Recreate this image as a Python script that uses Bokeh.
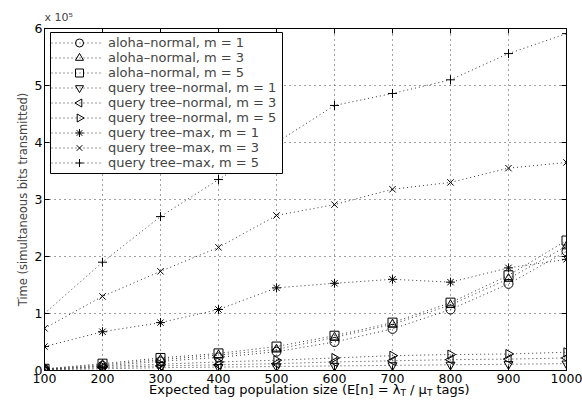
import math
from bokeh.plotting import figure
from bokeh.models import Range1d, LinearAxis, FixedTicker, Label, Legend, BoxAnnotation
from bokeh.embed import file_html
from bokeh.resources import INLINE

# Data (time in units of 10^5 simultaneous bits transmitted)
pop_size = [100, 200, 300, 400, 500, 600, 700, 800, 900, 1000]
aloha_m1 = [0.02, 0.08, 0.16, 0.23, 0.33, 0.50, 0.73, 1.07, 1.52, 2.09]
aloha_m3 = [0.025, 0.10, 0.19, 0.27, 0.37, 0.58, 0.81, 1.15, 1.61, 2.18]
aloha_m5 = [0.03, 0.12, 0.22, 0.30, 0.42, 0.61, 0.84, 1.19, 1.67, 2.28]
qtn_m1 = [0.01, 0.03, 0.05, 0.06, 0.07, 0.08, 0.09, 0.10, 0.11, 0.12]
qtn_m3 = [0.015, 0.05, 0.08, 0.10, 0.12, 0.15, 0.17, 0.19, 0.20, 0.22]
qtn_m5 = [0.02, 0.07, 0.11, 0.15, 0.18, 0.22, 0.26, 0.28, 0.29, 0.32]
qtm_m1 = [0.42, 0.68, 0.84, 1.07, 1.45, 1.53, 1.60, 1.55, 1.80, 1.95]
qtm_m3 = [0.74, 1.30, 1.74, 2.16, 2.72, 2.91, 3.18, 3.30, 3.55, 3.65]
qtm_m5 = [1.00, 1.90, 2.70, 3.35, 4.00, 4.65, 4.86, 5.10, 5.56, 5.91]

x_ticks = [100, 200, 300, 400, 500, 600, 700, 800, 900, 1000]
y_ticks = [0, 1, 2, 3, 4, 5, 6]

series = [
    ("aloha\u2013normal, m = 1", aloha_m1, "circle", 0.0),
    ("aloha\u2013normal, m = 3", aloha_m3, "triangle", 0.0),
    ("aloha\u2013normal, m = 5", aloha_m5, "square", 0.0),
    ("query tree\u2013normal, m = 1", qtn_m1, "inverted_triangle", 0.0),
    ("query tree\u2013normal, m = 3", qtn_m3, "triangle", math.pi / 2),
    ("query tree\u2013normal, m = 5", qtn_m5, "triangle", -math.pi / 2),
    ("query tree\u2013max, m = 1", qtm_m1, "asterisk", 0.0),
    ("query tree\u2013max, m = 3", qtm_m3, "x", 0.0),
    ("query tree\u2013max, m = 5", qtm_m5, "cross", 0.0),
]

FONT = "DejaVu Sans"
FRAME_L, FRAME_T, FRAME_W, FRAME_H = 44, 28, 522, 342
XMIN, XMAX, YMIN, YMAX = 100, 1000, 0, 6

p = figure(output_backend="svg", toolbar_location=None,
           frame_width=FRAME_W, frame_height=FRAME_H,
           min_border_left=FRAME_L, min_border_right=16,
           min_border_top=FRAME_T, min_border_bottom=37,
           x_range=Range1d(XMIN, XMAX), y_range=Range1d(YMIN, YMAX),
           background_fill_color="white", border_fill_color="white")

# page pixel -> data helpers (for annotation placement only)
def xd(px):
    return XMIN + (px - FRAME_L) * (XMAX - XMIN) / FRAME_W

def yd(py):
    return YMAX - (py - FRAME_T) * (YMAX - YMIN) / FRAME_H

p.title.text = "x 10\u2075"
p.title.align = "left"
p.title.text_font = FONT
p.title.text_font_size = "11px"
p.title.text_font_style = "normal"
p.title.offset = 0
p.title.standoff = 9

p.outline_line_color = "black"
p.outline_line_width = 1

for ax in (p.xaxis[0], p.yaxis[0]):
    ax.major_tick_in = 5
    ax.major_tick_out = 0
    ax.minor_tick_in = 0
    ax.minor_tick_out = 0
    ax.axis_line_color = "black"
    ax.major_tick_line_color = "black"
    ax.major_label_text_font = FONT
    ax.major_label_text_font_size = "12.5px"
    ax.major_label_text_color = "black"

p.xaxis[0].ticker = FixedTicker(ticks=x_ticks)
p.yaxis[0].ticker = FixedTicker(ticks=y_ticks)
p.xaxis[0].major_label_standoff = 3
p.yaxis[0].major_label_standoff = 2
p.yaxis[0].major_label_orientation = "horizontal"
p.yaxis[0].axis_label = "Time (simultaneous bits transmitted)"
p.yaxis[0].axis_label_text_font = FONT
p.yaxis[0].axis_label_text_font_size = "11.5px"
p.yaxis[0].axis_label_text_font_style = "normal"
p.yaxis[0].axis_label_standoff = 2

# Mirror tick marks on top and right, MATLAB style (no labels)
top_ax = LinearAxis(ticker=FixedTicker(ticks=x_ticks), major_tick_in=5, major_tick_out=0,
                    minor_tick_in=0, minor_tick_out=0,
                    major_label_overrides={t: "" for t in x_ticks},
                    major_label_standoff=0, axis_line_color="black")
right_ax = LinearAxis(ticker=FixedTicker(ticks=y_ticks), major_tick_in=5, major_tick_out=0,
                      minor_tick_in=0, minor_tick_out=0,
                      major_label_overrides={t: "" for t in y_ticks},
                      major_label_standoff=0, axis_line_color="black")
p.add_layout(top_ax, "above")
p.add_layout(right_ax, "right")

p.xgrid.ticker = FixedTicker(ticks=x_ticks)
p.ygrid.ticker = FixedTicker(ticks=y_ticks)
for g in (p.xgrid[0], p.ygrid[0]):
    g.grid_line_color = "#444444"
    g.grid_line_dash = "1 4"
    g.grid_line_width = 1

# legend geometry (page pixels)
LEG_MARGIN, ROW_H, GLYPH_W = 7, 15, 52
LEG_BOX = (50, 282, 32, 173)  # left, right, top, bottom

items = []
for name, ys, marker, ang in series:
    r1 = p.line(pop_size, ys, line_color="black", line_dash="1 3", line_width=1, line_alpha=0.8)
    p.scatter(pop_size, ys, marker=marker, angle=ang, size=9,
              line_color="black", fill_color=None, line_width=1)
    items.append((name, [r1]))

# opaque white legend box (drawn over the data), legend itself transparent on top
p.add_layout(BoxAnnotation(left=xd(LEG_BOX[0]), right=xd(LEG_BOX[1]),
                           top=yd(LEG_BOX[2]), bottom=yd(LEG_BOX[3]),
                           fill_color="white", fill_alpha=1.0,
                           line_color="black", line_width=1, line_alpha=1.0))

legend = Legend(items=items, location="top_left",
                label_text_font=FONT, label_text_font_size="13px",
                border_line_color=None, background_fill_alpha=0.0,
                glyph_width=GLYPH_W, glyph_height=ROW_H, label_height=ROW_H,
                label_standoff=5, spacing=0, padding=0, margin=LEG_MARGIN)
p.add_layout(legend, "center")

# legend marker samples (drawn on top so rotated triangles keep their direction)
for i, (name, ys, marker, ang) in enumerate(series):
    r = p.scatter([xd(FRAME_L + LEG_MARGIN + GLYPH_W / 2 + 2)],
                  [yd(FRAME_T + LEG_MARGIN + ROW_H * (i + 0.5))],
                  marker=marker, angle=ang, size=8,
                  line_color="black", fill_color="white", line_width=1)
    r.level = "overlay"

# x axis label with subscripts
ybase = -0.33
lab_font = "13px"
pieces = [
    (400, 0, "Expected tag population size (E[n] = \u03bb", "right", lab_font),
    (400, -4, "T", "left", "9px"),
    (409.5, 0, "/ \u03bc", "left", lab_font),
    (426.5, -4, "T", "left", "9px"),
    (436, 0, "tags)", "left", lab_font),
]
for px, yoff, txt, align, fs in pieces:
    p.add_layout(Label(x=xd(px), y=ybase, y_offset=yoff, text=txt, text_align=align,
                       text_baseline="middle", text_font=FONT, text_font_size=fs,
                       text_color="black"), "below")

open("out.html", "w").write(file_html(p, INLINE))
